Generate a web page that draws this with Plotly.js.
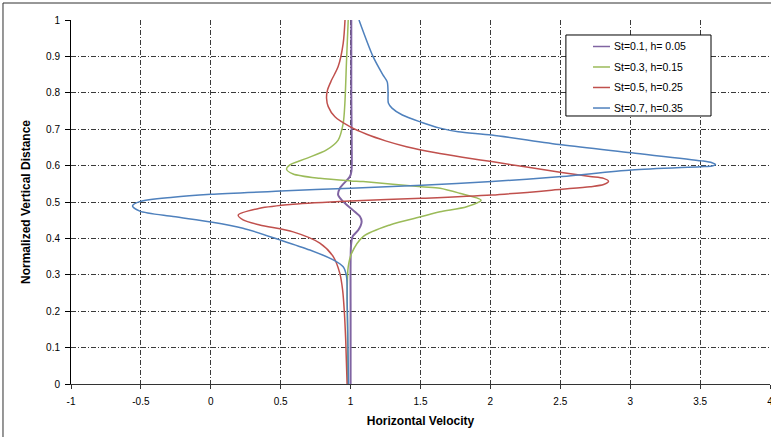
<!DOCTYPE html>
<html>
<head>
<meta charset="utf-8">
<script src="https://cdn.plot.ly/plotly-3.0.1.min.js"></script>
<style>
  html, body { margin: 0; padding: 0; background: #fff; }
  #chart { width: 771px; height: 437px; }
</style>
</head>
<body>
<div id="chart"></div>
<script>
// Velocity profiles: horizontal velocity (x) against normalized vertical distance (y),
// listed from the top of the domain (y = 1) down to the bottom (y = 0).
const seriesNames = ["St=0.1, h= 0.05", "St=0.3, h=0.15", "St=0.5, h=0.25", "St=0.7, h=0.35"];
const seriesColors = ["#8064A2", "#9BBB59", "#C0504D", "#4F81BD"];

const st01Velocity = [1.005, 1.005, 1.008, 1.006, 0.995, 0.923, 0.911, 0.947, 1.03, 1.067, 1.079, 1.055, 1.014, 1.003, 1.0, 1.0];
const st01Distance = [1.0, 0.80, 0.66, 0.585, 0.570, 0.538, 0.519, 0.501, 0.473, 0.460, 0.446, 0.423, 0.405, 0.38, 0.2, 0.0];

const st03Velocity = [0.983, 0.971, 0.959, 0.947, 0.911, 0.828, 0.685, 0.566, 0.542, 0.589, 0.780, 1.0, 1.09, 1.508, 1.64, 1.78, 1.933, 1.83, 1.64, 1.508, 1.281, 1.09, 1.007, 0.983, 0.976, 0.978, 0.98];
const st03Distance = [1.0, 0.89, 0.771, 0.716, 0.670, 0.643, 0.620, 0.602, 0.590, 0.577, 0.565, 0.558, 0.556, 0.542, 0.538, 0.524, 0.505, 0.487, 0.473, 0.460, 0.437, 0.405, 0.359, 0.322, 0.267, 0.15, 0.0];

const st05Velocity = [0.96, 0.947, 0.911, 0.864, 0.835, 0.828, 0.840, 0.888, 0.995, 1.115, 1.25, 1.40, 1.60, 1.80, 2.009, 2.51, 2.713, 2.81, 2.845, 2.81, 2.713, 2.51, 2.009, 1.508, 0.995, 0.589, 0.35, 0.196, 0.231, 0.35, 0.589, 0.78, 0.876, 0.923, 0.943, 0.955, 0.965, 0.975];
const st05Distance = [1.0, 0.936, 0.872, 0.835, 0.808, 0.785, 0.762, 0.734, 0.707, 0.686, 0.668, 0.652, 0.636, 0.623, 0.611, 0.581, 0.570, 0.565, 0.557, 0.548, 0.542, 0.535, 0.519, 0.510, 0.503, 0.494, 0.483, 0.464, 0.451, 0.437, 0.418, 0.387, 0.350, 0.304, 0.258, 0.20, 0.12, 0.0];

const st07Velocity = [1.06, 1.16, 1.23, 1.262, 1.268, 1.27, 1.296, 1.37, 1.50, 1.64, 1.77, 2.01, 2.51, 3.01, 3.51, 3.585, 3.61, 3.585, 3.50, 3.01, 2.51, 2.01, 1.51, 1.0, 0.5, 0.0, -0.27, -0.508, -0.56, -0.508, -0.27, 0.0, 0.23, 0.494, 0.709, 0.876, 0.947, 0.971, 0.975, 0.98, 0.985];
const st07Distance = [1.0, 0.90, 0.85, 0.83, 0.80, 0.772, 0.758, 0.739, 0.720, 0.703, 0.693, 0.684, 0.657, 0.635, 0.613, 0.608, 0.603, 0.599, 0.597, 0.588, 0.570, 0.556, 0.546, 0.538, 0.530, 0.521, 0.513, 0.501, 0.489, 0.475, 0.460, 0.445, 0.428, 0.396, 0.368, 0.341, 0.322, 0.295, 0.23, 0.14, 0.0];

const xTickValues = [-1, -0.5, 0, 0.5, 1, 1.5, 2, 2.5, 3, 3.5, 4];
const yTickValues = [0, 0.1, 0.2, 0.3, 0.4, 0.5, 0.6, 0.7, 0.8, 0.9, 1];

const velocities = [st01Velocity, st03Velocity, st05Velocity, st07Velocity];
const distances = [st01Distance, st03Distance, st05Distance, st07Distance];

const font = "Liberation Sans, Arial, sans-serif";

const traces = seriesNames.map((name, i) => ({
  type: "scatter",
  mode: "lines",
  name: name,
  x: velocities[i],
  y: distances[i],
  line: { color: seriesColors[i], width: i === 0 ? 2 : 1.5, shape: "spline", smoothing: 0.8 },
  showlegend: false,
  hoverinfo: "x+y+name"
}));

// Boxed key in the upper right of the plot area
const legendBox = { x0: 0.708, x1: 0.9156, y0: 0.7363, y1: 0.9588 };
const legendRows = [0.9272, 0.8709, 0.8146, 0.7582];
const shapes = [
  // chart frame
  { type: "rect", xref: "paper", yref: "paper", x0: -0.0973, x1: 1.2, y0: -0.4, y1: 1.0467,
    line: { color: "#303030", width: 1 }, fillcolor: "rgba(0,0,0,0)", layer: "above" },
  { type: "rect", xref: "paper", yref: "paper", x0: legendBox.x0, x1: legendBox.x1, y0: legendBox.y0, y1: legendBox.y1,
    line: { color: "#000", width: 1 }, fillcolor: "#fff", layer: "above" }
];
const annotations = [];
seriesNames.forEach((name, i) => {
  shapes.push({ type: "line", xref: "paper", yref: "paper", x0: 0.7468, x1: 0.7711,
    y0: legendRows[i], y1: legendRows[i], line: { color: seriesColors[i], width: 1.5 }, layer: "above" });
  annotations.push({ xref: "paper", yref: "paper", x: 0.7735, y: legendRows[i], xanchor: "left", yanchor: "middle",
    text: name, showarrow: false, font: { family: font, size: 10.5, color: "#000" } });
});

const layout = {
  width: 771,
  height: 437,
  margin: { l: 71, r: 1, t: 20, b: 53 },
  paper_bgcolor: "#fff",
  plot_bgcolor: "#fff",
  font: { family: font, size: 10, color: "#000" },
  xaxis: {
    range: [-1, 4],
    tickvals: xTickValues,
    ticktext: xTickValues.map(String),
    showgrid: true,
    gridcolor: "#3a3a3a",
    gridwidth: 1,
    griddash: "5px,2px,1px,2px",
    zeroline: false,
    showline: true,
    linecolor: "#333",
    linewidth: 1,
    ticks: "outside",
    ticklen: 4,
    tickcolor: "#333",
    ticklabelstandoff: 4,
    ticklabeloverflow: "allow",
    tickfont: { family: font, size: 10, color: "#000" },
    title: { text: "<b>Horizontal Velocity</b>", standoff: 10, font: { family: font, size: 12, color: "#000" } },
    automargin: false,
    fixedrange: true
  },
  yaxis: {
    range: [0, 1],
    tickvals: yTickValues,
    ticktext: yTickValues.map(String),
    showgrid: true,
    gridcolor: "#3a3a3a",
    gridwidth: 1,
    griddash: "5px,2px,1px,2px",
    zeroline: false,
    showline: true,
    linecolor: "#000",
    linewidth: 1,
    ticks: "outside",
    ticklen: 5,
    tickcolor: "#000",
    ticklabelstandoff: 3,
    tickfont: { family: font, size: 10, color: "#000" },
    title: { text: "<b>Normalized Vertical Distance</b>", standoff: 12, font: { family: font, size: 12, color: "#000" } },
    automargin: false,
    fixedrange: true
  },
  shapes: shapes,
  annotations: annotations
};

Plotly.newPlot("chart", traces, layout, { displayModeBar: false, staticPlot: true });
</script>
</body>
</html>
